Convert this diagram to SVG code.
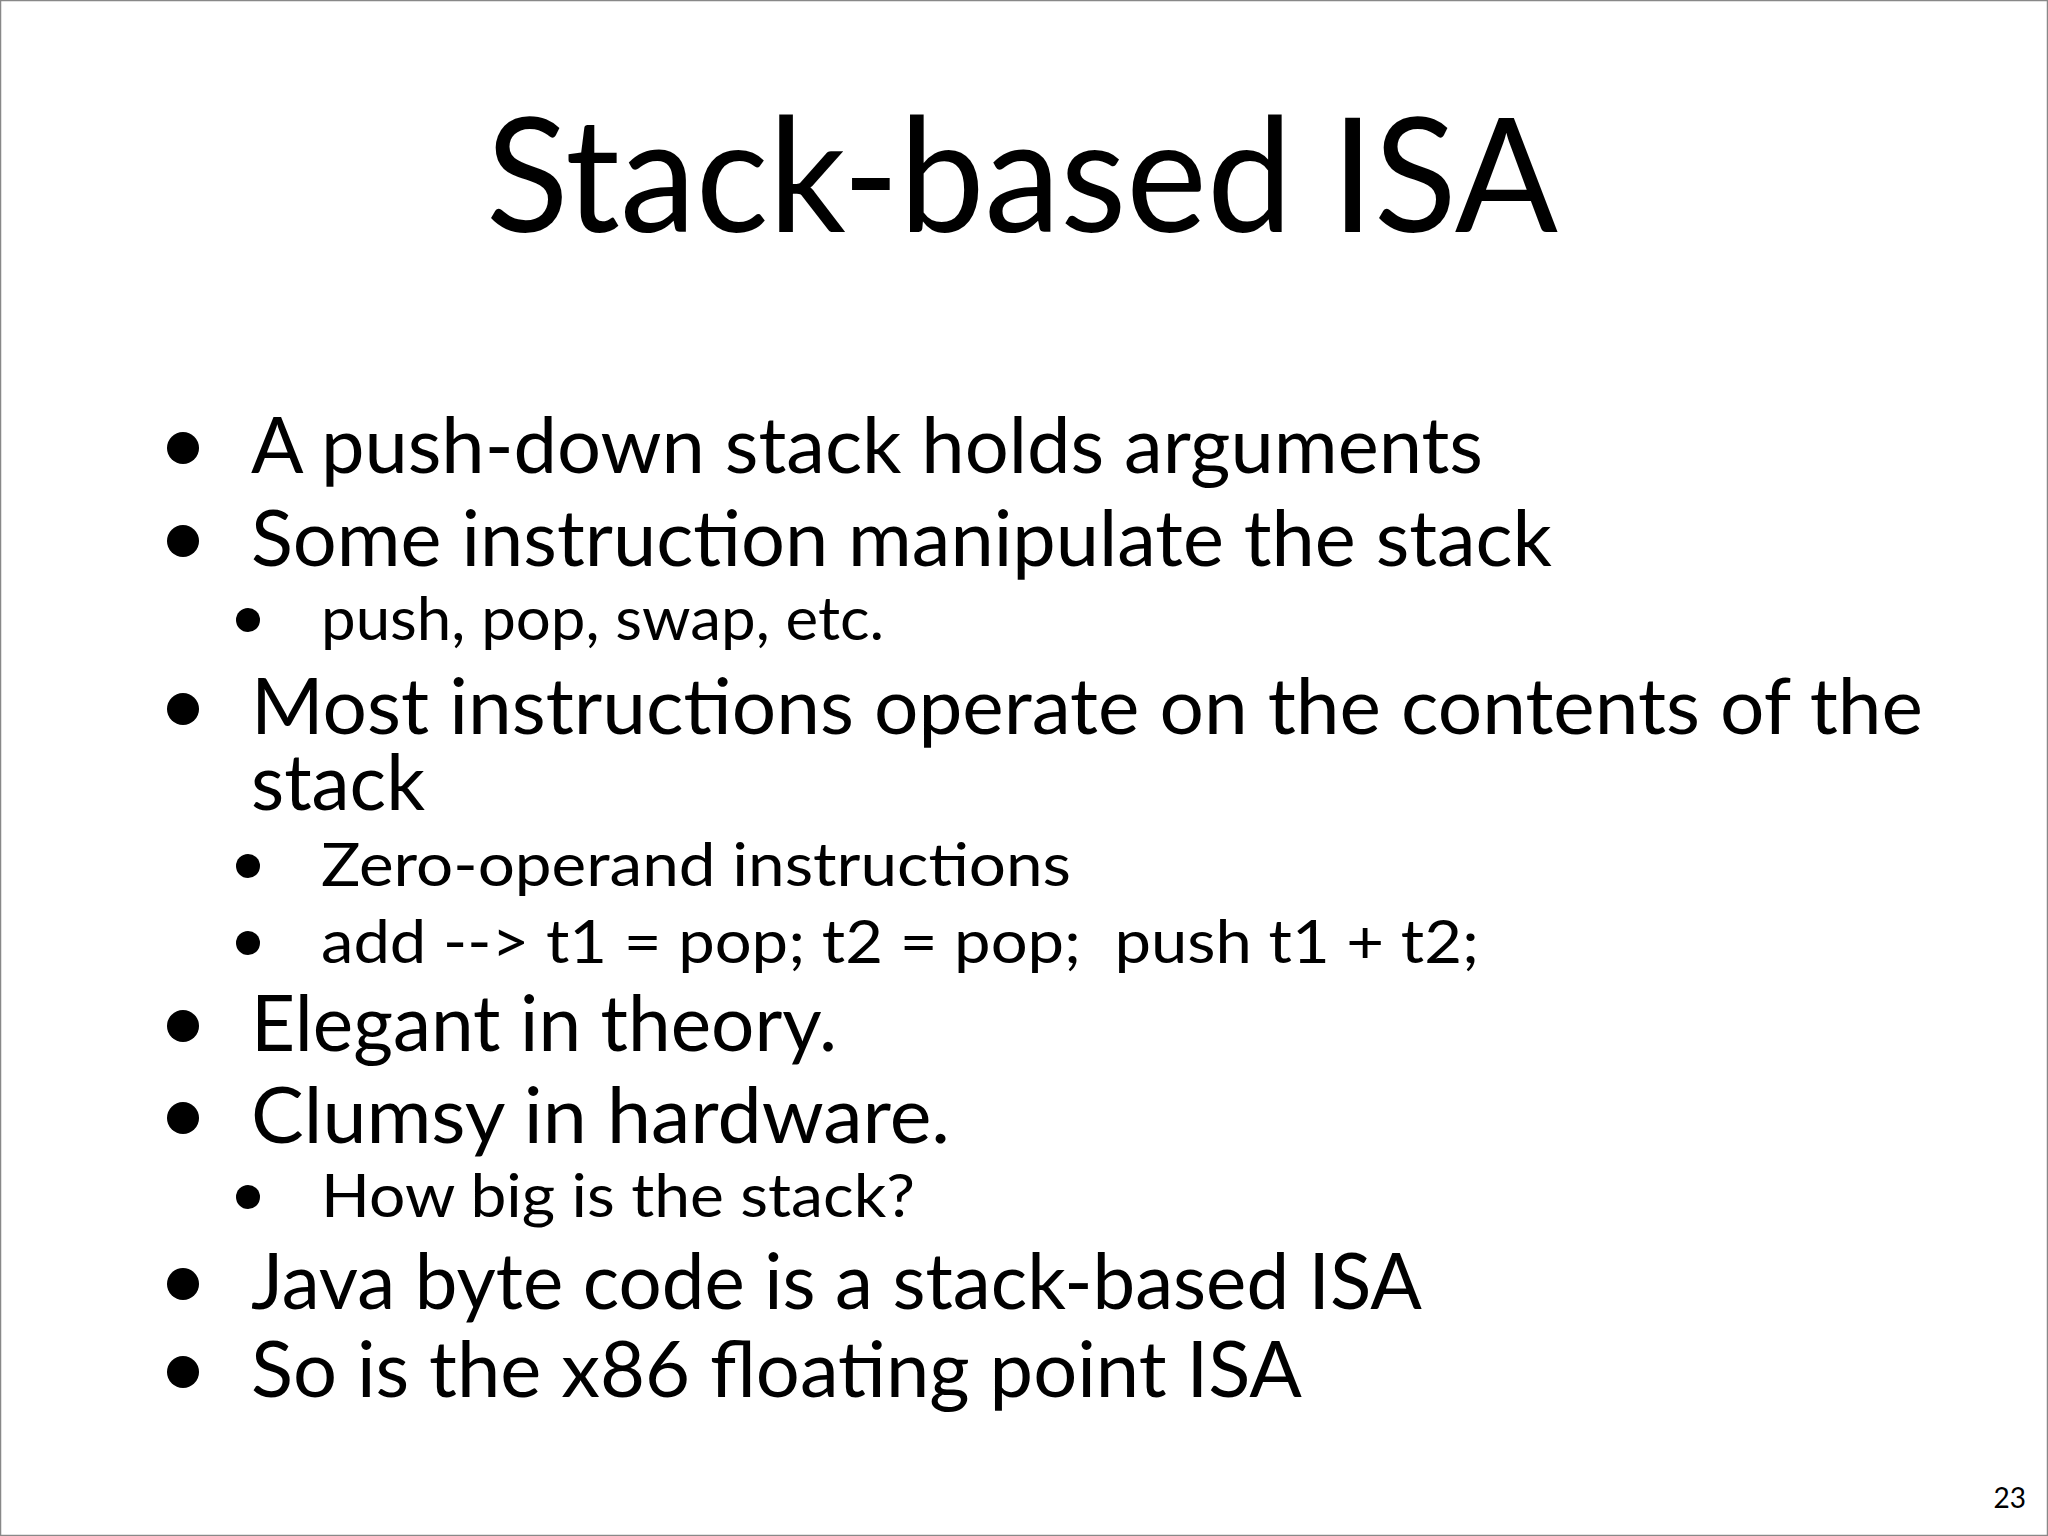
<svg xmlns="http://www.w3.org/2000/svg" width="2048" height="1536" viewBox="0 0 2048 1536">
<style>
text{font-family:Lato,"Open Sans","Liberation Sans",sans-serif;fill:#000}
.t{font-size:160px}
.l1{font-size:78px}
.l2{font-size:60px}
.b1{fill:#000}
</style>
<rect x="0.5" y="0.5" width="2047" height="1535" fill="#fff" stroke="#888" stroke-width="1.5"/>
<text class="t" x="486" y="232" textLength="1072" lengthAdjust="spacingAndGlyphs">Stack-based ISA</text>
<g class="b1">
<circle cx="183" cy="448" r="16"/><circle cx="183" cy="541" r="16"/><circle cx="248" cy="620" r="12"/>
<circle cx="183" cy="709" r="16"/><circle cx="248" cy="866" r="12"/><circle cx="248" cy="943" r="12"/>
<circle cx="183" cy="1026" r="16"/><circle cx="183" cy="1118" r="16"/><circle cx="248" cy="1197" r="12"/>
<circle cx="183" cy="1284" r="16"/><circle cx="183" cy="1372" r="16"/>
</g>
<text class="l1" x="251" y="473" textLength="1232" lengthAdjust="spacingAndGlyphs">A push-down stack holds arguments</text>
<text class="l1" x="251" y="566" textLength="1301" lengthAdjust="spacingAndGlyphs">Some instruction manipulate the stack</text>
<text class="l2" x="321" y="640" textLength="563" lengthAdjust="spacingAndGlyphs">push, pop, swap, etc.</text>
<text class="l1" x="251" y="734" textLength="1672" lengthAdjust="spacingAndGlyphs">Most instructions operate on the contents of the</text>
<text class="l1" x="251" y="810" textLength="174" lengthAdjust="spacingAndGlyphs">stack</text>
<text class="l2" x="321" y="886" textLength="750" lengthAdjust="spacingAndGlyphs">Zero-operand instructions</text>
<text class="l2" x="321" y="963" textLength="1158" lengthAdjust="spacingAndGlyphs" xml:space="preserve">add --&gt; t1 = pop; t2 = pop;  push t1 + t2;</text>
<text class="l1" x="251" y="1051" textLength="586" lengthAdjust="spacingAndGlyphs">Elegant in theory.</text>
<text class="l1" x="251" y="1143" textLength="699" lengthAdjust="spacingAndGlyphs">Clumsy in hardware.</text>
<text class="l2" x="321" y="1217" textLength="594" lengthAdjust="spacingAndGlyphs">How big is the stack?</text>
<text class="l1" x="251" y="1309" textLength="1171" lengthAdjust="spacingAndGlyphs">Java byte code is a stack-based ISA</text>
<text class="l1" x="251" y="1397" textLength="1051" lengthAdjust="spacingAndGlyphs">So is the x86 floating point ISA</text>
<text x="2026" y="1508" font-size="28" text-anchor="end">23</text>
</svg>
